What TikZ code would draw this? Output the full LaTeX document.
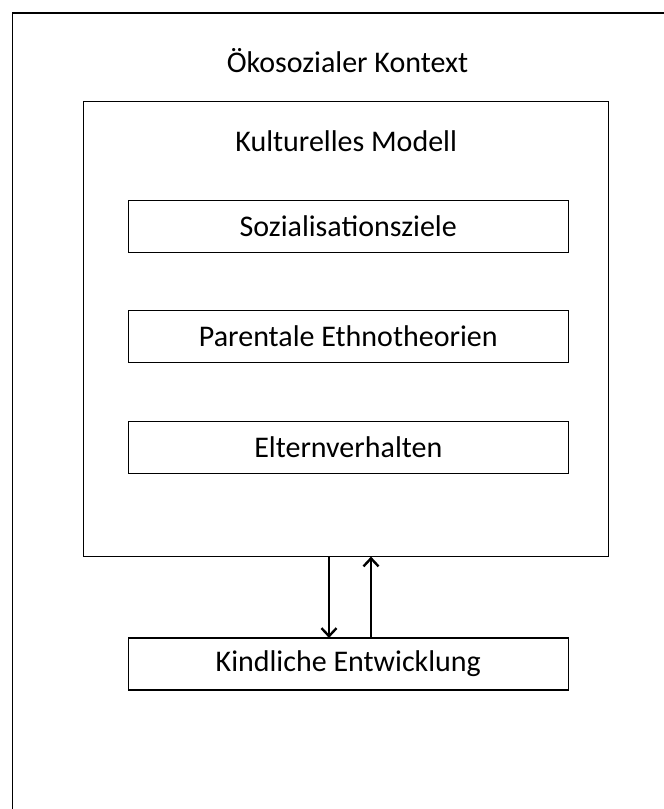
\documentclass[tikz,border=0pt]{standalone}
\usepackage{fontspec}
\setmainfont{Carlito}
\usetikzlibrary{arrows.meta,positioning,calc}

\begin{document}
\begin{tikzpicture}[x=1pt,y=1pt,font=\fontsize{30}{34}\selectfont,
  feld/.style={draw,line width=1.2pt,minimum width=440pt,minimum height=52pt,inner sep=0pt,outer sep=0pt},
  titel/.style={inner sep=0pt,outer sep=0pt},
  pfeil/.style={line width=1.1pt,-{Straight Barb[length=8pt,width=15pt,line width=2.4pt]}}
]
  \useasboundingbox (0,0) rectangle (664,-809);
  \begin{scope}
    \clip (0,0) rectangle (664,-809);
    \node[draw,line width=1.8pt,minimum width=670pt,minimum height=850pt,inner sep=0pt,outer sep=0pt,anchor=north west] (kontext) at (12.5,-12.7) {};
  \end{scope}
  \node[titel] (kontexttitel) at ($(kontext.north)+(0,-48)$) {Ökosozialer Kontext};
  \node[draw,line width=1.3pt,minimum width=525pt,minimum height=455pt,inner sep=0pt,outer sep=0pt] (modell) at (346.2,-329.1) {};
  \node[titel] (modelltitel) at ($(modell.north)+(0,-39.5)$) {Kulturelles Modell};
  \node[feld,below=99pt of modell.north,xshift=2.1pt] (ziele) {Sozialisationsziele};
  \node[feld,below=58pt of ziele] (ethno) {Parentale Ethnotheorien};
  \node[feld,below=59pt of ethno] (verhalten) {Elternverhalten};
  \node[feld,below=164.3pt of verhalten] (entw) {Kindliche Entwicklung};
  \draw[pfeil] ([xshift=-19.3pt]entw.north |- modell.south) -- ([xshift=-19.3pt]entw.north);
  \draw[pfeil] ([xshift=22.7pt]entw.north) -- ([xshift=22.7pt]entw.north |- modell.south);
\end{tikzpicture}
\end{document}
